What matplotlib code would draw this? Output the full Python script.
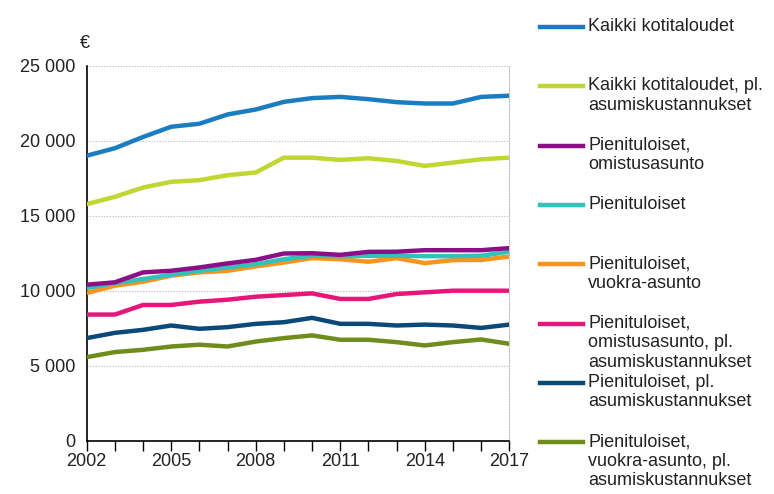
import matplotlib.pyplot as plt
from matplotlib.lines import Line2D

plt.rcParams['font.family'] = ['Liberation Sans', 'DejaVu Sans']

# data (euros per year)
years = list(range(2002, 2018))

kaikki = [19000, 19500, 20250, 20930, 21130, 21750, 22080, 22590, 22840, 22920, 22770, 22570, 22480, 22480, 22920, 23000]
kaikki_pl = [15770, 16260, 16880, 17260, 17370, 17700, 17880, 18870, 18870, 18720, 18830, 18650, 18320, 18540, 18760, 18870]
pien_omistus = [10400, 10560, 11220, 11330, 11550, 11820, 12060, 12480, 12500, 12390, 12590, 12600, 12700, 12700, 12700, 12840]
pien = [10180, 10500, 10780, 11060, 11330, 11550, 11770, 12100, 12330, 12300, 12330, 12330, 12300, 12300, 12330, 12600]
pien_vuokra = [9850, 10330, 10600, 11000, 11220, 11330, 11620, 11880, 12170, 12100, 11930, 12170, 11840, 12040, 12050, 12280]
pien_omistus_pl = [8410, 8410, 9050, 9050, 9270, 9400, 9600, 9710, 9820, 9450, 9450, 9780, 9890, 10000, 10000, 10000]
pien_pl = [6840, 7190, 7390, 7680, 7460, 7570, 7790, 7900, 8190, 7790, 7790, 7680, 7740, 7680, 7520, 7740]
pien_vuokra_pl = [5570, 5910, 6060, 6280, 6400, 6280, 6610, 6840, 7020, 6730, 6730, 6570, 6350, 6570, 6750, 6460]

series = [kaikki, kaikki_pl, pien_omistus, pien, pien_vuokra, pien_omistus_pl, pien_pl, pien_vuokra_pl]
labels = ['Kaikki kotitaloudet',
          'Kaikki kotitaloudet, pl.\nasumiskustannukset',
          'Pienituloiset,\nomistusasunto',
          'Pienituloiset',
          'Pienituloiset,\nvuokra-asunto',
          'Pienituloiset,\nomistusasunto, pl.\nasumiskustannukset',
          'Pienituloiset, pl.\nasumiskustannukset',
          'Pienituloiset,\nvuokra-asunto, pl.\nasumiskustannukset']
colors = ['#1b7dc1', '#bfd730', '#8c0f87', '#33c1b9', '#f7941e', '#e5177b', '#0b4a78', '#6f8c1c']

W, H = 774, 494
fig = plt.figure(figsize=(W / 100, H / 100), dpi=100)
ax = fig.add_axes([86.7 / W, 1 - 440.7 / H, (509.3 - 86.7) / W, (440.7 - 65.7) / H])

# draw last legend entries first so the top ones sit on top
for vals, col in reversed(list(zip(series, colors))):
    ax.plot(years, vals, color=col, lw=3.2, solid_capstyle='butt', zorder=3)

ax.set_xlim(2002, 2017)
ax.set_ylim(0, 25000)
ax.set_yticks(range(0, 25001, 5000))
ax.set_yticklabels([f'{v:,}'.replace(',', ' ') for v in range(0, 25001, 5000)])
ax.set_xticks(years)
ax.set_xticklabels([str(y) if (y - 2002) % 3 == 0 else '' for y in years])
ax.tick_params(axis='y', length=0, pad=8, labelsize=13, colors='#222222')
ax.tick_params(axis='x', length=7, width=1, direction='out', pad=2, labelsize=13, colors='black')
for t in ax.get_xticklabels():
    t.set_color('#222222')

ax.grid(axis='y', color='#bbbbbb', linestyle=(0, (1, 1.5)), lw=0.8)
ax.spines['top'].set_visible(False)
ax.spines['right'].set_color('#bbbbbb')
ax.spines['right'].set_linestyle((0, (1, 1.5)))
ax.spines['right'].set_linewidth(0.8)
ax.spines['left'].set_linewidth(1.2)
ax.spines['bottom'].set_linewidth(1.2)

fig.text(80 / W, 1 - 43 / H, '€', fontsize=13, va='center', ha='left', color='#222222')

# legend on the right
for i, (lab, col) in enumerate(zip(labels, colors)):
    yc = 1 - (27 + i * 59.3) / H
    fig.add_artist(Line2D([540 / W, 583 / W], [yc, yc], color=col, lw=3.2, transform=fig.transFigure))
    fig.text(588 / W, yc + 9 / H, lab, fontsize=13, va='top', ha='left', color='#222222', linespacing=1.2)

fig.savefig('out.png', dpi=100)
